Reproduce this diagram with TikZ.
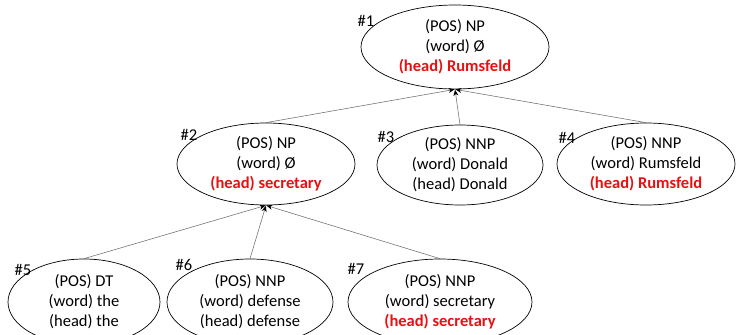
\documentclass[tikz,border=0pt]{standalone}
\usepackage{fontspec}
\setmainfont{Carlito}
\usetikzlibrary{shapes.geometric,arrows.meta}
\definecolor{headred}{RGB}{232,16,16}
\definecolor{edgegray}{RGB}{110,110,110}
\tikzset{
  tnode/.style={ellipse, draw=black, line width=0.7pt, inner sep=0pt,
    align=center, font=\fontsize{16.5}{20}\selectfont},
  tag/.style={font=\fontsize{16.5}{18}\selectfont, inner sep=0pt},
  dep/.style={draw=edgegray, line width=0.55pt,
    -{Stealth[length=6pt,width=5pt,black]}, shorten >=0.5pt}
}
\newcommand{\headtxt}[1]{\textcolor{headred}{\textbf{(head) #1}}}
\begin{document}
\begin{tikzpicture}[x=1pt,y=-1pt]
\clip (0,0) rectangle (737,335);
\fill[white] (0,0) rectangle (737,335);

% root
\node[tnode, minimum width=188pt, minimum height=84pt] (n1) at (455,47)
  {(POS) NP\\(word) Ø\\\headtxt{Rumsfeld}};
% second level
\node[tnode, minimum width=178pt, minimum height=82pt] (n2) at (266,164)
  {(POS) NP\\(word) Ø\\\headtxt{secretary}};
\node[tnode, minimum width=166pt, minimum height=80pt] (n3) at (460,165)
  {(POS) NNP\\(word) Donald\\(head) Donald};
\node[tnode, minimum width=178pt, minimum height=82pt] (n4) at (646,164)
  {(POS) NNP\\(word) Rumsfeld\\\headtxt{Rumsfeld}};
% third level
\node[tnode, minimum width=152pt, minimum height=86pt] (n5) at (84,302)
  {(POS) DT\\(word) the\\(head) the};
\node[tnode, minimum width=166pt, minimum height=86pt] (n6) at (250,302)
  {(POS) NNP\\(word) defense\\(head) defense};
\node[tnode, minimum width=184pt, minimum height=86pt] (n7) at (440,302)
  {(POS) NNP\\(word) secretary\\\headtxt{secretary}};

% node numbers
\node[tag] (t1) at (366,21) {\#1};
\node[tag] (t2) at (189,135) {\#2};
\node[tag] (t3) at (386,137) {\#3};
\node[tag] (t4) at (567,138) {\#4};
\node[tag] (t5) at (23,270) {\#5};
\node[tag] (t6) at (184,265) {\#6};
\node[tag] (t7) at (356,269) {\#7};

% dependency edges
\draw[dep] (n2.north) -- (n1.south);
\draw[dep] (n3.north) -- (n1.south);
\draw[dep] (n4.north) -- (n1.south);
\draw[dep] (n5.north) -- (n2.south);
\draw[dep] (n6.north) -- (n2.south);
\draw[dep] (n7.north) -- (n2.south);
\end{tikzpicture}
\end{document}
